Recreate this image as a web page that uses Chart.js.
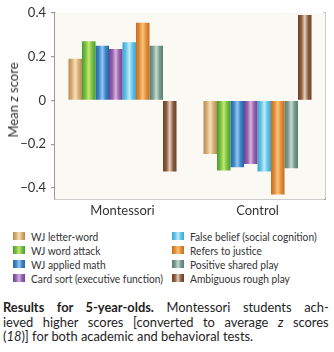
<!DOCTYPE html>
<html>
<head>
<meta charset="utf-8">
<script src="https://cdn.jsdelivr.net/npm/chart.js@4.4.1/dist/chart.umd.min.js"></script>
<style>
  body { margin: 0; background: #fff; width: 334px; height: 352px; overflow: hidden; position: relative;
         font-family: Lato, Roboto, sans-serif; color: #2b2b2b; }
  #wrap { position: absolute; left: 0; top: 0; width: 334px; height: 222px; }
  #ytitle { position: absolute; left: 13px; top: 100px; transform: translate(-50%, -50%) rotate(-90deg);
            font-size: 13px; white-space: nowrap; color: #333; }
  #legend { position: absolute; left: 13px; top: 229px; width: 320px; display: grid;
            grid-template-columns: 159px 159px; grid-auto-flow: column; grid-template-rows: repeat(4, 14px);
            font-size: 12px; color: #333; }
  #legend div { display: flex; align-items: center; white-space: nowrap; }
  #legend span.sw { display: inline-block; flex: 0 0 12px; width: 12px; height: 8px; margin-right: 6px; }
  #legend span.tx { display: inline-block; transform: scaleX(0.85); transform-origin: left center; }
  #caption { position: absolute; left: 3px; top: 300px; width: 354px; font-size: 14px; line-height: 14.5px; color: #1e1e1e;
             transform: scaleX(0.92); transform-origin: left top; }
  #caption div { white-space: nowrap; }
  #caption div.j { text-align: justify; text-align-last: justify; }
</style>
</head>
<body>
<div id="wrap"><canvas id="chart" width="334" height="222"></canvas></div>
<div id="ytitle">Mean <i>z</i> score</div>
<div id="legend"></div>
<div id="caption">
  <div class="j"><b>Results for 5-year-olds.</b> Montessori students ach-</div>
  <div class="j">ieved higher scores [converted to average <i>z</i> scores</div>
  <div>(<i>18</i>)] for both academic and behavioral tests.</div>
</div>
<script>
const groups = ['Montessori', 'Control'];
const measures = ['WJ letter-word', 'WJ word attack', 'WJ applied math', 'Card sort (executive function)',
                  'False belief (social cognition)', 'Refers to justice', 'Positive shared play', 'Ambiguous rough play'];
const montessoriScores = [0.19, 0.27, 0.25, 0.235, 0.265, 0.355, 0.25, -0.325];
const controlScores = [-0.245, -0.32, -0.305, -0.29, -0.325, -0.43, -0.31, 0.39];
const yTicks = [-0.4, -0.2, 0, 0.2, 0.4];

// edge, body, highlight
const palette = [
    ['#b78a52', '#d7ae76', '#f5e0b8'],
    ['#4a9c33', '#72bf42', '#c9e56d'],
    ['#2862a6', '#3c85c7', '#95c8ee'],
    ['#734290', '#9462ae', '#d9b3de'],
    ['#3aa7d3', '#61c2e7', '#c4ebf8'],
    ['#c66c20', '#e28d37', '#f9c57f'],
    ['#587d6e', '#779b8c', '#c9dad1'],
    ['#6c4127', '#8d5c3d', '#e3d2c4'],
];

function barFill(i) {
    return function (c) {
        const el = c.element;
        const p = palette[i];
        if (!el || el.x == null || !el.width) return p[1];
        const g = c.chart.ctx.createLinearGradient(el.x - el.width / 2, 0, el.x + el.width / 2, 0);
        g.addColorStop(0, p[0]);
        g.addColorStop(0.25, p[1]);
        g.addColorStop(0.5, p[2]);
        g.addColorStop(0.75, p[1]);
        g.addColorStop(1, p[0]);
        return g;
    };
}

const datasets = measures.map(function (name, i) {
    return {
        label: name,
        data: [montessoriScores[i], controlScores[i]],
        backgroundColor: barFill(i),
        borderWidth: 0,
        categoryPercentage: 0.8,
        barPercentage: 1.0,
    };
});

const plotBg = {
    id: 'plotBg',
    beforeDatasetsDraw(chart) {
        const a = chart.chartArea;
        const ctx = chart.ctx;
        ctx.save();
        ctx.fillStyle = '#fbf9f3';
        ctx.fillRect(a.left, a.top, a.right - a.left, a.bottom - a.top);
        ctx.restore();
    }
};

Chart.defaults.font.family = 'Lato, Roboto, sans-serif';
Chart.defaults.color = '#333';

const chart = new Chart(document.getElementById('chart'), {
    type: 'bar',
    data: { labels: groups, datasets: datasets },
    options: {
        responsive: false,
        animation: false,
        layout: { padding: { top: 8, right: 9, left: 0, bottom: 0 } },
        plugins: { legend: { display: false }, tooltip: { enabled: false } },
        scales: {
            x: {
                grid: { display: false, drawTicks: false },
                border: { display: true, color: '#9a9a9a', width: 1.5 },
                ticks: { font: { size: 13 }, padding: 4, color: '#333' },
                afterFit(scale) { scale.height = 23; }
            },
            y: {
                min: -0.45,
                max: 0.4,
                grid: { drawOnChartArea: false, drawTicks: true, tickLength: 4, color: '#9a9a9a', lineWidth: 1.2 },
                border: { display: true, color: '#9a9a9a', width: 1.5 },
                ticks: {
                    font: { size: 13 }, padding: 5, color: '#333',
                    callback: function (v) { return v === 0 ? '0' : (v < 0 ? '\u2212' : '') + Math.abs(v).toFixed(1); }
                },
                afterBuildTicks(scale) { scale.ticks = yTicks.map(function (v) { return { value: v }; }); },
                afterFit(scale) { scale.width = 55; }
            },
            y2: {
                position: 'right',
                min: -0.45,
                max: 0.4,
                grid: { display: false, drawTicks: false },
                border: { display: true, color: '#9a9a9a', width: 1.5 },
                ticks: { display: false },
                afterFit(scale) { scale.width = 0; }
            }
        }
    },
    plugins: [plotBg]
});
chart.update();

const legend = document.getElementById('legend');
measures.forEach(function (name, i) {
    const p = palette[i];
    const row = document.createElement('div');
    const sw = document.createElement('span');
    sw.className = 'sw';
    sw.style.background = 'linear-gradient(to right, ' + p[0] + ', ' + p[1] + ' 25%, ' + p[2] + ' 50%, ' + p[1] + ' 75%, ' + p[0] + ')';
    const tx = document.createElement('span');
    tx.className = 'tx';
    tx.textContent = name;
    row.appendChild(sw);
    row.appendChild(tx);
    legend.appendChild(row);
});
</script>
</body>
</html>
